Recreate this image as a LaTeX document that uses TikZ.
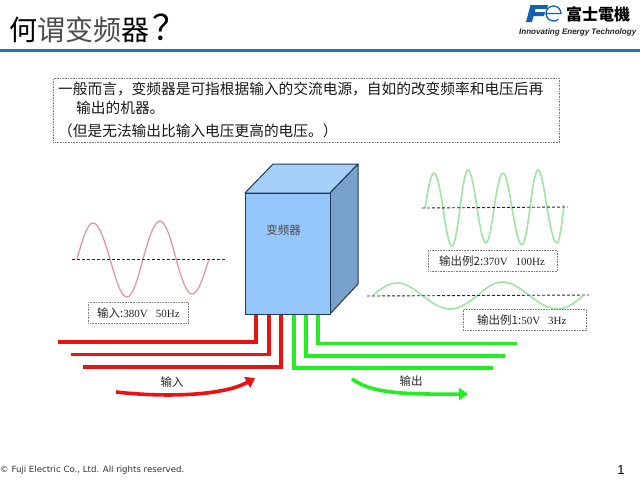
\documentclass[tikz,border=0pt]{standalone}
\usepackage{graphicx}
\usepackage{fontspec}
\setmainfont{Liberation Serif}
\newfontfamily\cjk{Noto Sans CJK SC}
\newfontfamily\foot{DejaVu Sans}
\newfontfamily\tag{Liberation Sans}
\usetikzlibrary{arrows.meta}
\definecolor{rule}{HTML}{1B78AE}
\definecolor{fuji}{HTML}{1560B0}
\definecolor{front}{HTML}{95C6FA}
\definecolor{topf}{HTML}{A6CFFA}
\definecolor{side}{HTML}{78A2CC}
\definecolor{edge}{HTML}{1F3A55}
\definecolor{redwave}{HTML}{DE9AA0}
\definecolor{greenwave}{HTML}{A2E4A6}
\definecolor{wire}{HTML}{EE1111}
\definecolor{gwire}{HTML}{22EE22}
\tikzset{
  x=1pt,y=-1pt,
  box/.style={draw=black!50,densely dotted,line width=.6pt,inner sep=0,anchor=north west},
  body/.style={font=\cjk\fontsize{14.7}{16}\selectfont,anchor=west,inner sep=0,text=black!90},
  small/.style={font=\cjk\fontsize{11.5}{14}\selectfont,inner sep=0,text=black!85},
  axisline/.style={densely dashed,line width=.9pt,black!85},
  redline/.style={draw=wire,line width=3.5pt},
  greenline/.style={draw=gwire,line width=3.5pt},
  redw/.style={draw=redwave,line width=1.3pt},
  greenw/.style={draw=greenwave,line width=1.6pt},
  flowred/.style={draw=wire,line width=3.6pt,-{Triangle[length=9pt,width=12pt]}},
  flowgreen/.style={draw=gwire,line width=3.6pt,-{Triangle[length=9pt,width=12pt]}},
  cubeface/.style={draw=edge,line width=1pt,line join=round},
}
\newcommand{\latinpart}[1]{{\rmfamily\fontsize{11}{14}\selectfont #1}}
\begin{document}
\begin{tikzpicture}
\useasboundingbox (0,0) rectangle (640,480);
\fill[white] (0,0) rectangle (640,480);
% header
\node[anchor=west,inner sep=0,font=\cjk\fontsize{28}{30}\selectfont] (title) at (9,28) {何{\color{black!70}谓变频}器\hspace{3pt}\scalebox{1.25}{？}};
\fill[rule] (0,48.5) rectangle (640,52);
% logo
\fill[fuji] (530.5,5) -- (548,5) -- (547,9) -- (535.5,9) -- (534.7,12) -- (545,12) -- (544,16) -- (533.6,16) -- (532,22) -- (526,22) -- cycle;
\draw[fuji,line width=1.3pt] (546,13.5) -- (561,13.5) arc[start angle=0,end angle=-310,radius=7.5];
\node[anchor=west,inner sep=0,font=\cjk\bfseries\fontsize{16}{16}\selectfont] (brand) at (566,14) {富士電機};
\node[anchor=west,inner sep=0,font=\tag\bfseries\itshape\fontsize{11}{12}\selectfont,text=black!85] (tagline) at (519,32) {\resizebox{117pt}{!}{Innovating Energy Technology}};
% text box
\node[box,minimum width=506pt,minimum height=64pt] (textbox) at (53,78) {};
\node[body] (l1) at (58,89) {一般而言，变频器是可指根据输入的交流电源，自如的改变频率和电压后再};
\node[body] (l2) at (76,107.5) {输出的机器。};
\node[body] (l3) at (58,131) {（但是无法输出比输入电压更高的电压。）};
% wires
\coordinate (r1) at (256,314); \coordinate (r2) at (269,314); \coordinate (r3) at (281,314);
\coordinate (g1) at (294,314); \coordinate (g2) at (306,314); \coordinate (g3) at (318,314);
\coordinate (r1e) at (58,342); \coordinate (r2e) at (71,354.5); \coordinate (r3e) at (83,367);
\coordinate (g1e) at (493,368); \coordinate (g2e) at (505,356); \coordinate (g3e) at (517,343.5);
\draw[redline] (r1) |- (r1e);
\draw[redline] (r2) |- (r2e);
\draw[redline] (r3) |- (r3e);
\draw[greenline] (g1) |- (g1e);
\draw[greenline] (g2) |- (g2e);
\draw[greenline] (g3) |- (g3e);
% cube
\draw[cubeface,fill=topf] (245,193) -- (273,164) -- (358,164) -- (330,193) -- cycle;
\draw[cubeface,fill=side] (330,193) -- (358,164) -- (358,284) -- (330,314) -- cycle;
\node[draw=edge,line width=1pt,fill=front,inner sep=0,minimum width=85pt,minimum height=121pt,anchor=north west] (cube) at (245,193) {};
\node[small,text=black!70] (cubelabel) at (283.5,230) {变频器};
% input wave
\coordinate (w0) at (72,259); \coordinate (w1) at (226,259);
\draw[redw] (77,259) sin (93,223) cos (110,259) sin (127,297) cos (143,259) sin (160,221) cos (176,259) sin (192,294) cos (209,259);
\draw[axisline] (w0) -- (w1);
\node[box,minimum width=100pt,minimum height=21pt] (inbox) at (88,302) {};
\node[small,anchor=west] (intext) at (97,313) {输入:\latinpart{380V\hspace{8pt}50Hz}};
% output 2
\coordinate (a0) at (422,208); \coordinate (a1) at (568,207);
\draw[greenw] (425,208) sin (434,173) cos (443,208) sin (452,246) cos (460,208) sin (468,170) cos (477,208) sin (486,243) cos (494,208) sin (503,173) cos (512,208) sin (522,245) cos (530,208) sin (538,170) cos (547,208) sin (557,243) cos (564,205);
\draw[axisline] (a0) -- (a1);
\node[box,minimum width=129pt,minimum height=21pt] (o2box) at (428,250) {};
\node[small,anchor=west] (o2text) at (439,261) {输出例2:\latinpart{370V\hspace{8pt}100Hz}};
% output 1
\coordinate (b0) at (367,296); \coordinate (b1) at (589,295);
\draw[greenw] (372,296) sin (397,283) cos (423,296) sin (450,309) cos (477,296) sin (502,282) cos (530,296) sin (558,309) cos (583,296);
\draw[axisline] (b0) -- (b1);
\node[box,minimum width=123pt,minimum height=21pt] (o1box) at (463,309) {};
\node[small,anchor=west] (o1text) at (477,320) {输出例1:\latinpart{50V\hspace{8pt}3Hz}};
% flow arrows
\coordinate (fr0) at (116,392); \coordinate (fr1) at (255,378);
\coordinate (fg0) at (352,379); \coordinate (fg1) at (468,394);
\draw[flowred] (fr0) .. controls (170,398) and (225,395) .. (fr1);
\draw[flowgreen] (fg0) .. controls (372,393) and (400,394.5) .. (fg1);
\node[small] (inlabel) at (172,382) {输入};
\node[small] (outlabel) at (411,381) {输出};
% footer
\node[anchor=west,inner sep=0,font=\foot\fontsize{8.6}{10}\selectfont,text=black!80] (copy) at (0,470) {© Fuji Electric Co., Ltd. All rights reserved.};
\node[inner sep=0,font=\tag\fontsize{13}{14}\selectfont] (page) at (621,470) {1};
\end{tikzpicture}
\end{document}
